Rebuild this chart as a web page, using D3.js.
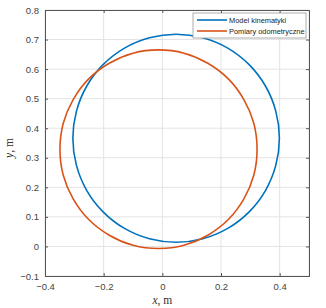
<!DOCTYPE html>
<html lang="pl">
<head>
<meta charset="UTF-8">
<title>Model kinematyki vs pomiary odometryczne</title>
<script src="https://cdn.jsdelivr.net/npm/d3@7"></script>
<style>
  body { margin: 0; background: #fff; }
  .tick text { font-family: "Liberation Sans", Arial, sans-serif; font-size: 9.5px; fill: #444; }
  .lbl { font-family: "Liberation Serif", "Times New Roman", serif; font-size: 11.5px; fill: #333; }
  .leg { font-family: "Liberation Sans", Arial, sans-serif; font-size: 7.4px; fill: #222; }
</style>
</head>
<body>
<svg width="326" height="308"></svg>
<script>
// trajectories (x, y in metres)
var seriesNames = ["Model kinematyki", "Pomiary odometryczne"];
var seriesColors = ["#0072BD", "#D95319"];

var modelX = [0.047, 0.138, 0.223, 0.296, 0.352, 0.387, 0.399, 0.387, 0.352, 0.296, 0.223, 0.138,
              0.047, -0.044, -0.129, -0.202, -0.258, -0.293, -0.305, -0.293, -0.258, -0.202, -0.129, -0.044];
var modelY = [0.014, 0.026, 0.061, 0.117, 0.190, 0.275, 0.366, 0.457, 0.542, 0.615, 0.671, 0.706,
              0.718, 0.706, 0.671, 0.615, 0.542, 0.457, 0.366, 0.275, 0.190, 0.117, 0.061, 0.026];

var odoX = [-0.013, 0.074, 0.155, 0.225, 0.278, 0.312, 0.323, 0.312, 0.278, 0.225, 0.155, 0.074,
            -0.013, -0.100, -0.181, -0.251, -0.304, -0.338, -0.349, -0.338, -0.304, -0.251, -0.181, -0.100];
var odoY = [-0.007, 0.004, 0.038, 0.091, 0.161, 0.242, 0.329, 0.416, 0.497, 0.567, 0.620, 0.654,
            0.665, 0.654, 0.620, 0.567, 0.497, 0.416, 0.329, 0.242, 0.161, 0.091, 0.038, 0.004];

var xTicks = [-0.4, -0.2, 0, 0.2, 0.4];
var yTicks = [-0.1, 0, 0.1, 0.2, 0.3, 0.4, 0.5, 0.6, 0.7, 0.8];

var svg = d3.select("svg");
var m = {left: 45, top: 10, right: 17, bottom: 32};
var w = +svg.attr("width") - m.left - m.right;
var h = +svg.attr("height") - m.top - m.bottom;

var x = d3.scaleLinear().domain([-0.4, 0.5]).range([0, w]);
var y = d3.scaleLinear().domain([-0.1, 0.8]).range([h, 0]);

var g = svg.append("g").attr("transform", "translate(" + m.left + "," + m.top + ")");

// grid
g.append("g").selectAll("line").data(xTicks.concat([0.5])).enter().append("line")
  .attr("x1", function(d) { return x(d); }).attr("x2", function(d) { return x(d); })
  .attr("y1", 0).attr("y2", h)
  .attr("stroke", "#e3e3e3").attr("stroke-width", 1);
g.append("g").selectAll("line").data(yTicks).enter().append("line")
  .attr("y1", function(d) { return y(d); }).attr("y2", function(d) { return y(d); })
  .attr("x1", 0).attr("x2", w)
  .attr("stroke", "#e3e3e3").attr("stroke-width", 1);

var fmt = function(d) { return d3.format("")(+d.toFixed(1)); };

// axes (MATLAB style, ticks inside)
g.append("g").attr("transform", "translate(0," + h + ")")
  .call(d3.axisBottom(x).tickValues(xTicks).tickSize(-3).tickPadding(7).tickFormat(fmt));
g.append("g")
  .call(d3.axisLeft(y).tickValues(yTicks).tickSize(-3).tickPadding(6).tickFormat(fmt));
g.append("g")
  .call(d3.axisTop(x).tickValues(xTicks).tickSize(-3).tickFormat(""));
g.append("g").attr("transform", "translate(" + w + ",0)")
  .call(d3.axisRight(y).tickValues(yTicks).tickSize(-3).tickFormat(""));
g.selectAll(".domain").attr("stroke", "#555");
g.selectAll(".tick line").attr("stroke", "#555");

// trajectories
var line = d3.line()
  .x(function(d) { return x(d[0]); })
  .y(function(d) { return y(d[1]); })
  .curve(d3.curveCatmullRomClosed);

var series = [d3.zip(modelX, modelY), d3.zip(odoX, odoY)];
g.selectAll(".traj").data(series).enter().append("path")
  .attr("class", "traj")
  .attr("d", line)
  .attr("fill", "none")
  .attr("stroke", function(d, i) { return seriesColors[i]; })
  .attr("stroke-width", 1.6);

// axis labels
var xl = svg.append("text").attr("class", "lbl")
  .attr("x", m.left + x(0)).attr("y", 304).attr("text-anchor", "middle");
xl.append("tspan").attr("font-style", "italic").text("x");
xl.append("tspan").text(", m");

var yl = svg.append("text").attr("class", "lbl")
  .attr("transform", "translate(13,148) rotate(-90)").attr("text-anchor", "middle");
yl.append("tspan").attr("font-style", "italic").text("y");
yl.append("tspan").text(", m");

// legend
var lg = svg.append("g").attr("transform", "translate(193,13)");
lg.append("rect").attr("width", 113).attr("height", 25)
  .attr("fill", "#fff").attr("stroke", "#999").attr("stroke-width", 0.8);
seriesNames.forEach(function(name, i) {
  lg.append("line").attr("x1", 4).attr("x2", 34)
    .attr("y1", 7 + i * 11).attr("y2", 7 + i * 11)
    .attr("stroke", seriesColors[i]).attr("stroke-width", 1.6);
  lg.append("text").attr("class", "leg")
    .attr("x", 36).attr("y", 10 + i * 11).text(name);
});
</script>
</body>
</html>
